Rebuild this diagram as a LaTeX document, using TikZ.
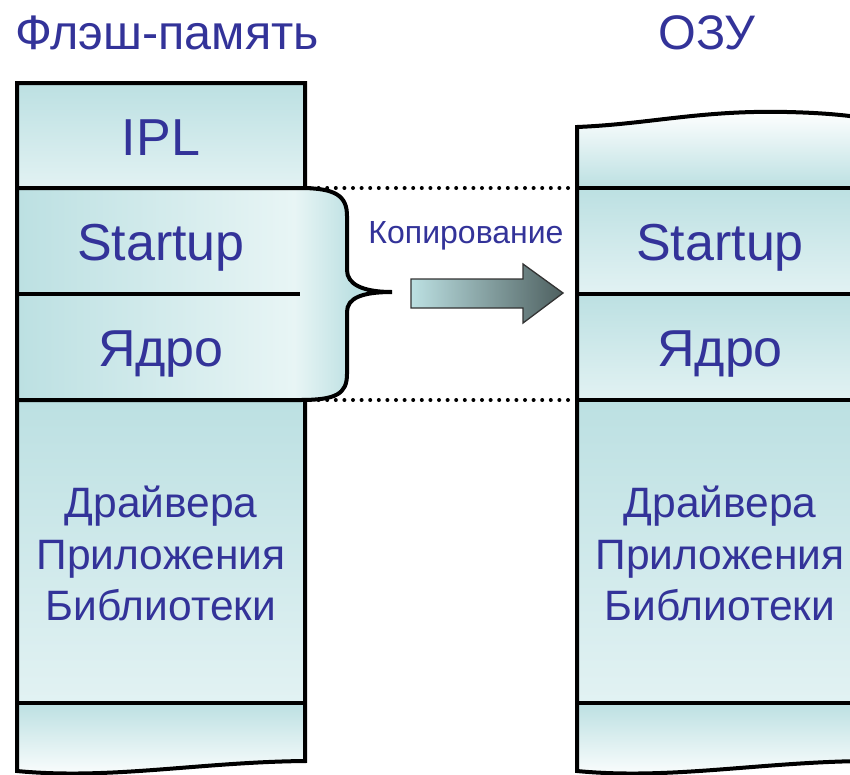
\documentclass[tikz,border=0pt]{standalone}
\usepackage{fontspec}
\setmainfont{Liberation Sans}
\definecolor{txt}{RGB}{51,51,153}
\definecolor{tealA}{RGB}{188,224,226}
\definecolor{lightA}{RGB}{226,242,243}
\definecolor{paleA}{RGB}{232,245,245}
\definecolor{darkA}{RGB}{78,96,96}
\pgfdeclarehorizontalshading{braceshade}{100bp}{color(0bp)=(tealA); color(25bp)=(tealA); color(62bp)=(paleA); color(70bp)=(tealA); color(100bp)=(tealA)}
\begin{document}
\begin{tikzpicture}[x=1pt,y=-1pt,
  outline/.style={line width=4pt, black, line join=miter},
  big/.style={text=txt, font=\fontsize{52}{62}\selectfont, anchor=base, inner sep=0pt},
  small/.style={text=txt, font=\fontsize{42.5}{51}\selectfont, anchor=base, inner sep=0pt},
  title/.style={text=txt, font=\fontsize{48.5}{58}\selectfont, anchor=base, inner sep=0pt},
  dots/.style={line width=4pt, dash pattern=on 0pt off 8.6pt, line cap=round},
  vgrad/.style={top color=tealA, bottom color=lightA}]
\useasboundingbox (0,0) rectangle (850,774);
\clip (0,0) rectangle (850,774);

% ---------- left column (flash) ----------
\fill[top color=tealA, bottom color=lightA] (17,83) rectangle (305,188);
\fill[shading=braceshade] (17,188) -- (300,188) .. controls (336,188) and (347,196) .. (347,216) -- (347,270) .. controls (347,284) and (362,292) .. (392,292) .. controls (362,292) and (347,298) .. (347,312) -- (347,374) .. controls (347,394) and (336,400) .. (300,400) -- (17,400) -- cycle;
\fill[vgrad] (17,400) rectangle (305,703);
\fill[top color=tealA, bottom color=white] (17,703) -- (305,703) -- (305,761) .. controls (200,762) and (110,780) .. (17,771) -- cycle;

\draw[outline] (305,400) -- (305,761) .. controls (200,762) and (110,780) .. (17,771) -- (17,83) -- (305,83) -- (305,188);
\draw[outline] (17,188) -- (300,188) .. controls (336,188) and (347,196) .. (347,216) -- (347,270) .. controls (347,284) and (362,292) .. (392,292) .. controls (362,292) and (347,298) .. (347,312) -- (347,374) .. controls (347,394) and (336,400) .. (300,400) -- (17,400);
\draw[outline] (17,294) -- (300,294);
\draw[outline] (17,703) -- (305,703);

% ---------- right column (RAM) ----------
\fill[top color=white, bottom color=tealA] (577,127) .. controls (650,124) and (700,110) .. (787,112) .. controls (830,113) and (850,116) .. (865,118) -- (865,188) -- (577,188) -- cycle;
\fill[vgrad] (577,188) rectangle (865,294);
\fill[vgrad] (577,294) rectangle (865,400);
\fill[vgrad] (577,400) rectangle (865,703);
\fill[top color=tealA, bottom color=white] (577,703) -- (865,703) -- (865,761) .. controls (760,762) and (670,780) .. (577,771) -- cycle;

\draw[outline] (865,118) .. controls (850,116) and (830,113) .. (787,112) .. controls (700,110) and (650,124) .. (577,127) -- (577,771) .. controls (670,780) and (760,762) .. (865,761);
\draw[outline] (577,188) -- (865,188);
\draw[outline] (577,294) -- (865,294);
\draw[outline] (577,400) -- (865,400);
\draw[outline] (577,703) -- (865,703);

% ---------- dotted guides ----------
\coordinate (fa) at (310,188);
\coordinate (fb) at (310,400);
\coordinate (ra) at (574,188);
\coordinate (rb) at (574,400);
\draw[dots] (fa) -- (ra);
\draw[dots] (fb) -- (rb);

% ---------- copy arrow ----------
\draw[line width=1.3pt, draw=black!80, left color=tealA, right color=darkA]
  (411,279) -- (523,279) -- (523,264) -- (563,293) -- (523,323) -- (523,308) -- (411,308) -- cycle;

% ---------- texts ----------
\node[title] (tflash) at (167,49) {Флэш-память};
\node[title] (tram) at (707,49) {ОЗУ};
\node[text=txt, font=\fontsize{32}{38}\selectfont, anchor=base, inner sep=0pt] (tcopy) at (466,243) {Копирование};

\node[big] (ipl) at (161,155) {IPL};
\node[big] (lstart) at (161,260) {Startup};
\node[big] (lcore) at (161,366) {Ядро};
\node[small] (ldrv) at (161,517) {Драйвера};
\node[small] (lapp) at (161,569) {Приложения};
\node[small] (llib) at (161,620) {Библиотеки};

\node[big] (rstart) at (720,260) {Startup};
\node[big] (rcore) at (720,366) {Ядро};
\node[small] (rdrv) at (720,517) {Драйвера};
\node[small] (rapp) at (720,569) {Приложения};
\node[small] (rlib) at (720,620) {Библиотеки};
\end{tikzpicture}
\end{document}
